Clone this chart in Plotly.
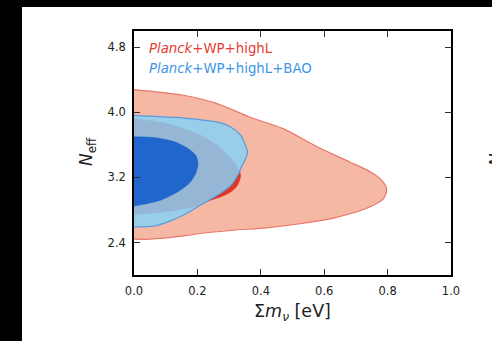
import plotly.graph_objects as go

# ---- data ----
# Planck+WP+highL, 95% contour
red95_x = [0.0, 0.05, 0.156, 0.26, 0.366, 0.47, 0.576, 0.68, 0.745, 0.78, 0.797, 0.787, 0.734, 0.629, 0.524, 0.418, 0.313, 0.208, 0.156, 0.05, 0.0]
red95_y = [4.28, 4.26, 4.21, 4.11, 3.94, 3.80, 3.58, 3.39, 3.27, 3.17, 3.06, 2.94, 2.82, 2.70, 2.63, 2.58, 2.55, 2.51, 2.48, 2.44, 2.44]
# Planck+WP+highL, 68% contour
red68_x = [0.0, 0.105, 0.21, 0.273, 0.315, 0.334, 0.336, 0.326, 0.305, 0.273, 0.242, 0.189, 0.105, 0.0]
red68_y = [3.92, 3.86, 3.72, 3.56, 3.39, 3.27, 3.21, 3.10, 3.02, 2.96, 2.92, 2.84, 2.78, 2.74]
# Planck+WP+highL+BAO, 95% contour
blue95_x = [0.0, 0.063, 0.158, 0.263, 0.305, 0.336, 0.349, 0.358, 0.352, 0.339, 0.328, 0.305, 0.263, 0.21, 0.158, 0.105, 0.063, 0.0]
blue95_y = [3.96, 3.95, 3.93, 3.88, 3.82, 3.72, 3.62, 3.51, 3.43, 3.33, 3.23, 3.10, 2.98, 2.86, 2.74, 2.65, 2.60, 2.59]
# Planck+WP+highL+BAO, 68% contour
blue68_x = [0.0, 0.063, 0.126, 0.168, 0.195, 0.202, 0.195, 0.175, 0.137, 0.084, 0.032, 0.0]
blue68_y = [3.70, 3.69, 3.64, 3.56, 3.47, 3.37, 3.25, 3.13, 3.02, 2.92, 2.87, 2.85]

x_ticks = [0.0, 0.2, 0.4, 0.6, 0.8, 1.0]
x_tick_labels = ["0.0", "0.2", "0.4", "0.6", "0.8", "1.0"]
y_ticks = [2.4, 3.2, 4.0, 4.8]
y_tick_labels = ["2.4", "3.2", "4.0", "4.8"]

legend_labels = ["<i>Planck</i>+WP+highL", "<i>Planck</i>+WP+highL+BAO"]

# ---- figure ----
fig = go.Figure()

def contour(xs, ys, fill, edge, width):
    return go.Scatter(x=xs, y=ys, mode="lines", fill="toself", fillcolor=fill,
                      line=dict(color=edge, width=width, shape="spline", smoothing=0.8),
                      hoverinfo="skip", showlegend=False)

fig.add_trace(contour(red95_x, red95_y, "rgb(245,184,164)", "rgb(234,118,106)", 1.2))
fig.add_trace(contour(red68_x, red68_y, "rgb(224,52,36)", "rgb(224,52,36)", 0.5))
fig.add_trace(contour(blue95_x, blue95_y, "rgba(133,211,249,0.83)", "rgb(90,155,222)", 1.2))
fig.add_trace(contour(blue68_x, blue68_y, "rgb(33,102,204)", "rgb(33,102,204)", 0.5))

font_main = "DejaVu Sans, sans-serif"

L, R, T, B = 134, 41, 31, 66
W, H = 492, 341
pw, ph = W - L - R, H - T - B

def px2paper_x(px):
    return (px - L) / pw

def px2paper_y(py):
    return (H - B - py) / ph

fig.update_layout(
    width=W, height=H,
    margin=dict(l=L, r=R, t=T, b=B, pad=0),
    paper_bgcolor="black",
    plot_bgcolor="white",
    font=dict(family=font_main, color="#222222", size=11),
    shapes=[dict(type="rect", xref="paper", yref="paper", layer="below",
                 x0=px2paper_x(22), x1=px2paper_x(W + 2), y0=px2paper_y(H + 2), y1=px2paper_y(7),
                 fillcolor="white", line=dict(width=0))],
    xaxis=dict(range=[0.0, 1.0], tickvals=x_ticks, ticktext=x_tick_labels,
               ticks="inside", ticklen=6, tickwidth=1, tickcolor="#333333",
               showline=True, linecolor="black", linewidth=1.6, mirror="ticks",
               showgrid=False, zeroline=False, ticklabelstandoff=4,
               tickfont=dict(size=11.5, color="#222222")),
    yaxis=dict(range=[2.0, 5.0], tickvals=y_ticks, ticktext=y_tick_labels,
               ticks="inside", ticklen=6, tickwidth=1, tickcolor="#333333",
               showline=True, linecolor="black", linewidth=1.6, mirror="ticks",
               showgrid=False, zeroline=False, ticklabelstandoff=4,
               tickfont=dict(size=11.5, color="#222222")),
    annotations=[
        dict(text=legend_labels[0], xref="paper", yref="paper", x=px2paper_x(147), y=px2paper_y(49),
             xanchor="left", yanchor="middle", showarrow=False,
             font=dict(family=font_main, size=13.3, color="rgb(228,62,52)")),
        dict(text=legend_labels[1], xref="paper", yref="paper", x=px2paper_x(147), y=px2paper_y(69),
             xanchor="left", yanchor="middle", showarrow=False,
             font=dict(family=font_main, size=13.3, color="rgb(62,150,230)")),
        dict(text="\u03a3<i>m</i><sub><i>\u03bd</i></sub> [eV]", xref="paper", yref="paper",
             x=0.5, y=px2paper_y(312), xanchor="center", yanchor="middle", showarrow=False,
             font=dict(family=font_main, size=17.5, color="#222222")),
        dict(text="<i>N</i><sub>eff</sub>", xref="paper", yref="paper", textangle=-90,
             x=px2paper_x(87), y=px2paper_y(152), xanchor="center", yanchor="middle", showarrow=False,
             font=dict(family=font_main, size=17, color="#222222")),
        dict(text="<i>N</i><sub>eff</sub>", xref="paper", yref="paper", textangle=-90,
             x=px2paper_x(497), y=px2paper_y(152), xanchor="center", yanchor="middle", showarrow=False,
             font=dict(family=font_main, size=17, color="#222222")),
    ],
)

fig.write_html(
    "out.html",
    config={"displayModeBar": False},
    post_script="document.body.style.margin='0';document.body.style.overflow='hidden';"
)
